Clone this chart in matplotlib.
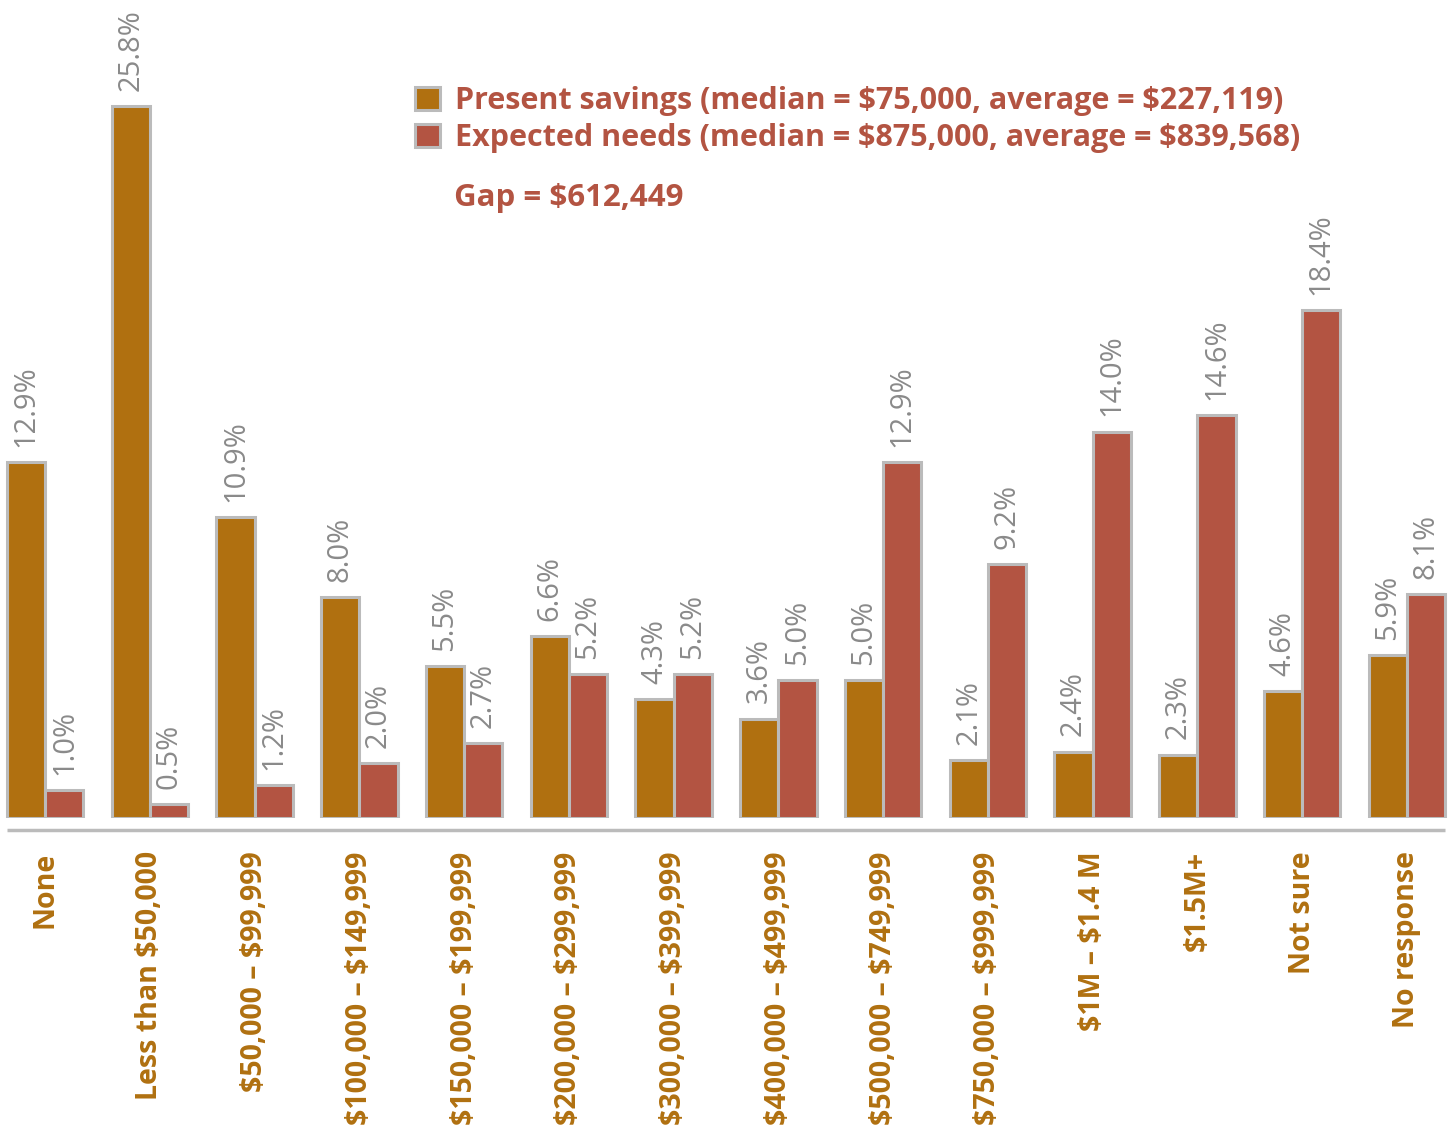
import matplotlib.pyplot as plt
import numpy as np

categories = ['None', 'Less than $50,000', '$50,000 – $99,999', '$100,000 – $149,999',
              '$150,000 – $199,999', '$200,000 – $299,999', '$300,000 – $399,999',
              '$400,000 – $499,999', '$500,000 – $749,999', '$750,000 – $999,999',
              '$1M – $1.4 M', '$1.5M+', 'Not sure', 'No response']
present = [12.9, 25.8, 10.9, 8.0, 5.5, 6.6, 4.3, 3.6, 5.0, 2.1, 2.4, 2.3, 4.6, 5.9]
expected = [1.0, 0.5, 1.2, 2.0, 2.7, 5.2, 5.2, 5.0, 12.9, 9.2, 14.0, 14.6, 18.4, 8.1]
legend_labels = ['Present savings (median = $75,000, average = $227,119)',
                 'Expected needs (median = $875,000, average = $839,568)']
gap_text = 'Gap = $612,449'

gold = '#B07010'
red = '#B35442'
edge = '#BBBBBB'
gray = '#8A8A8A'

plt.rcParams['font.family'] = ['Open Sans', 'DejaVu Sans']
plt.rcParams['text.parse_math'] = False

fig = plt.figure(figsize=(14.52, 11.31), dpi=100)
ax = fig.add_axes([0.0, 1 - 818 / 1131, 1.0, 818 / 1131])

px_per_pct = 27.6

x = np.arange(len(categories))
w = 0.365
b1 = ax.bar(x - w / 2, present, w, color=gold, edgecolor=edge, linewidth=2.2,
            label=legend_labels[0])
b2 = ax.bar(x + w / 2, expected, w, color=red, edgecolor=edge, linewidth=2.2,
            label=legend_labels[1])

for bars, vals in ((b1, present), (b2, expected)):
    for r, v in zip(bars, vals):
        ax.annotate(f'{v:.1f}%', (r.get_x() + r.get_width() / 2, r.get_height()),
                    xytext=(0, 11), textcoords='offset points', rotation=90,
                    ha='center', va='bottom', color=gray, fontsize=21)

# first bar left edge at ~7px, last bar right edge at ~1445px
px_per_unit = (1445 - 7) / (x[-1] - x[0] + 2 * w)
ax.set_xlim(x[0] - w - 7 / px_per_unit, x[-1] + w + 7 / px_per_unit)
ax.set_ylim(0, 818 / px_per_pct)
ax.axis('off')

# baseline just below bars
ax.plot([x[0] - w, x[-1] + w], [-12 / px_per_pct] * 2, color=edge, lw=2.5,
        clip_on=False, solid_capstyle='butt')

for xi, cat in zip(x, categories):
    ax.annotate(cat, (xi, 0), xytext=(0, -24), textcoords='offset points',
                rotation=90, ha='center', va='top', color=gold, fontsize=20.5,
                fontweight='bold', annotation_clip=False)

leg = ax.legend(handles=[b1, b2], loc='upper left',
                bbox_to_anchor=(403 / 1452, 1 - 74 / 818),
                frameon=False, handlelength=0.8, handleheight=0.8,
                handletextpad=0.5, labelspacing=0.22, borderaxespad=0,
                prop={'weight': 'bold', 'size': 22})
for t in leg.get_texts():
    t.set_color(red)

fig.text(454 / 1452, 1 - 198 / 1131, gap_text, color=red, fontsize=22.5,
         fontweight='bold', va='center', ha='left')

fig.savefig('out.png', dpi=100)
